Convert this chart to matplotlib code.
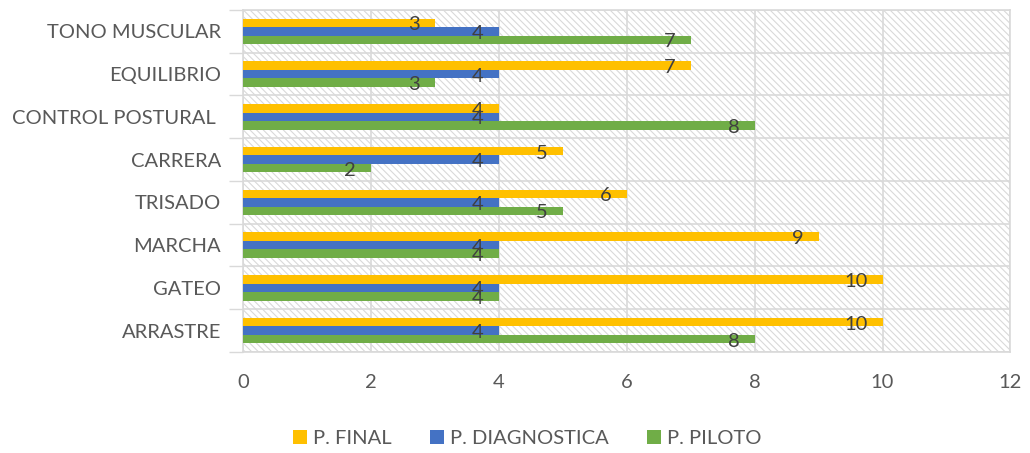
import numpy as np
import matplotlib
matplotlib.use("Agg")
import matplotlib.pyplot as plt

# Datos
categorias = ["TONO MUSCULAR", "EQUILIBRIO", "CONTROL POSTURAL ", "CARRERA",
              "TRISADO", "MARCHA", "GATEO", "ARRASTRE"]
p_final = [3, 7, 4, 5, 6, 9, 10, 10]
p_diagnostica = [4, 4, 4, 4, 4, 4, 4, 4]
p_piloto = [7, 3, 8, 2, 5, 4, 4, 8]

series = [("P. FINAL", p_final, "#FFC000"),
          ("P. DIAGNOSTICA", p_diagnostica, "#4472C4"),
          ("P. PILOTO", p_piloto, "#70AD47")]

plt.rcParams["font.family"] = ["Lato", "DejaVu Sans"]
plt.rcParams["hatch.color"] = "#d9d9d9"
plt.rcParams["hatch.linewidth"] = 0.8

fig = plt.figure(figsize=(10.3, 4.53), dpi=100)
ax = fig.add_axes([0.236, 0.223, 0.745, 0.755])

# fondo rayado
ax.patch.set_facecolor("white")
ax.patch.set_hatch("\\\\\\\\\\")
ax.patch.set_edgecolor("#d9d9d9")

y = np.arange(len(categorias))[::-1].astype(float)
h = 0.2
offsets = [h, 0, -h]

for (nombre, vals, color), off in zip(series, offsets):
    ax.barh(y + off, vals, height=h, color=color, label=nombre, zorder=3)
    for yi, v in zip(y, vals):
        ax.annotate(str(v), (v, yi + off), xytext=(-11, -1.5), textcoords="offset points",
                    ha="right", va="center", fontsize=14.5, color="#404040", zorder=4)

ax.set_xlim(0, 12)
ax.set_ylim(-0.5, len(categorias) - 0.5)
ax.set_xticks(range(0, 13, 2))
ax.set_yticks(y)
ax.set_yticklabels(categorias)
ax.tick_params(axis="x", length=0, labelsize=14.5, labelcolor="#595959", pad=16)
ax.tick_params(axis="y", which="major", length=0, labelsize=14.5, labelcolor="#595959", pad=16)

# lineas entre categorias
ax.set_yticks(np.arange(-0.5, len(categorias), 1), minor=True)
ax.tick_params(axis="y", which="minor", length=10, color="#d9d9d9", width=1)
ax.grid(True, axis="y", which="minor", color="#d9d9d9", lw=1.2, zorder=1)
ax.grid(True, axis="x", which="major", color="#d9d9d9", lw=1.2, zorder=1)
ax.set_axisbelow(True)

for s in ax.spines.values():
    s.set_color("#d9d9d9")
    s.set_linewidth(1.2)

ax.legend(loc="upper center", bbox_to_anchor=(0.37, -0.175), ncol=3, frameon=False,
          fontsize=14.5, labelcolor="#595959", handlelength=0.7, handleheight=0.7,
          handletextpad=0.3, columnspacing=1.9)

fig.savefig("out.png", dpi=100)
